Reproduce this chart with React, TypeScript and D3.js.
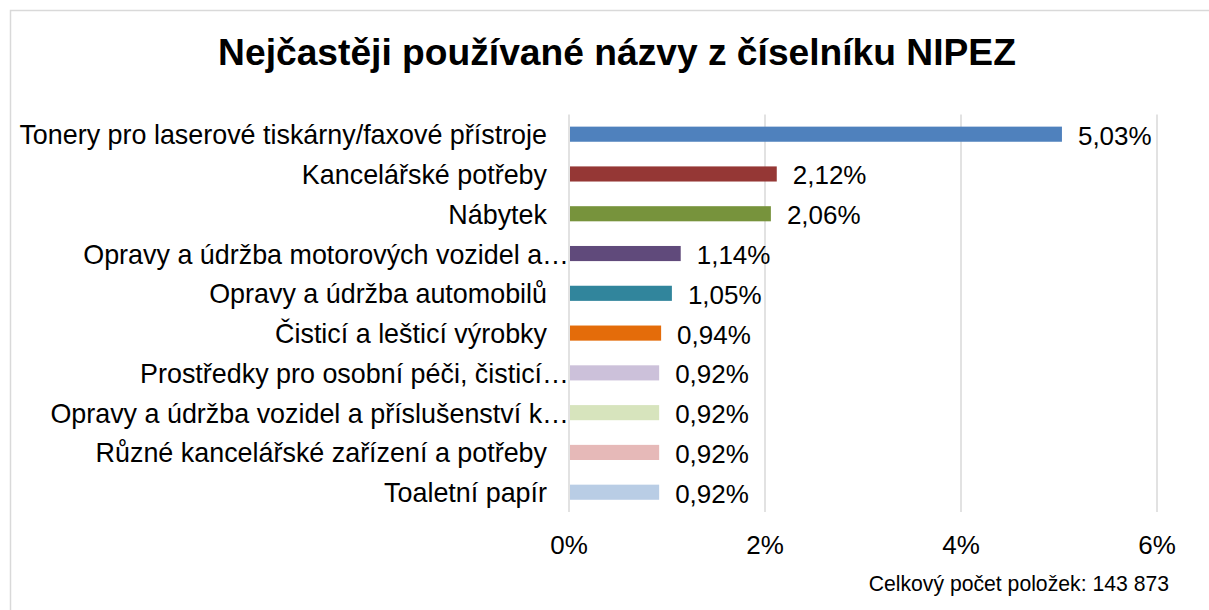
import React from "react";
import * as d3 from "d3";

const TITLE = "Nejčastěji používané názvy z číselníku NIPEZ";
const FOOTNOTE = "Celkový počet položek: 143 873";

const categories = [
  "Tonery pro laserové tiskárny/faxové přístroje",
  "Kancelářské potřeby",
  "Nábytek",
  "Opravy a údržba motorových vozidel a…",
  "Opravy a údržba automobilů",
  "Čisticí a lešticí výrobky",
  "Prostředky pro osobní péči, čisticí…",
  "Opravy a údržba vozidel a příslušenství k…",
  "Různé kancelářské zařízení a potřeby",
  "Toaletní papír",
];

const values = [5.03, 2.12, 2.06, 1.14, 1.05, 0.94, 0.92, 0.92, 0.92, 0.92];

const valueLabels = ["5,03%", "2,12%", "2,06%", "1,14%", "1,05%", "0,94%", "0,92%", "0,92%", "0,92%", "0,92%"];

const colors = [
  "#4F81BD", "#953735", "#77933C", "#604A7B", "#31859C",
  "#E46C0A", "#CCC1DA", "#D7E4BD", "#E6B9B8", "#B9CDE5",
];

const xTicks = [0, 2, 4, 6];

const W = 1209;
const H = 610;
const FONT = "'Liberation Sans', Arial, sans-serif";

export default function App() {
  const x = d3.scaleLinear().domain([0, 6]).range([569, 1157]);
  const y = d3
    .scaleBand<string>()
    .domain(categories)
    .range([114.3, 512.1])
    .paddingInner(0.62)
    .paddingOuter(0.31);
  const bw = y.bandwidth();

  return (
    <svg
      width={W}
      height={H}
      style={{ position: "absolute", left: 0, top: 0, background: "#fff" }}
      fontFamily={FONT}
    >
      <rect x={0} y={0} width={W} height={H} fill="#fff" />
      <rect x={10.5} y={10.5} width={W + 20} height={H + 20} fill="none" stroke="#D9D9D9" strokeWidth={1.5} />
      <text x={617} y={52} textAnchor="middle" dominantBaseline="central" fontSize={37.2} fontWeight="bold" fill="#000">
        {TITLE}
      </text>
      {xTicks.map((t) => (
        <g key={t}>
          <line x1={x(t)} x2={x(t)} y1={114.5} y2={512} stroke="#D9D9D9" strokeWidth={1.5} />
          <text x={x(t)} y={545} textAnchor="middle" dominantBaseline="central" fontSize={26} fill="#000">
            {`${t}%`}
          </text>
        </g>
      ))}
      {categories.map((c, i) => {
        const yc = (y(c) as number) + bw / 2;
        const truncated = c.endsWith("…");
        return (
          <g key={c}>
            <rect x={x(0) + 1} y={y(c)} width={x(values[i]) - x(0) - 1} height={bw} fill={colors[i]} />
            <text
              x={truncated ? 569 : 547}
              y={yc + 1}
              textAnchor="end"
              dominantBaseline="central"
              fontSize={26.9}
              fill="#000"
            >
              {c}
            </text>
            <text x={x(values[i]) + 16} y={yc + 1.5} textAnchor="start" dominantBaseline="central" fontSize={26} fill="#000">
              {valueLabels[i]}
            </text>
          </g>
        );
      })}
      <text x={1169} y={583} textAnchor="end" dominantBaseline="central" fontSize={21.2} fill="#000">
        {FOOTNOTE}
      </text>
    </svg>
  );
}
